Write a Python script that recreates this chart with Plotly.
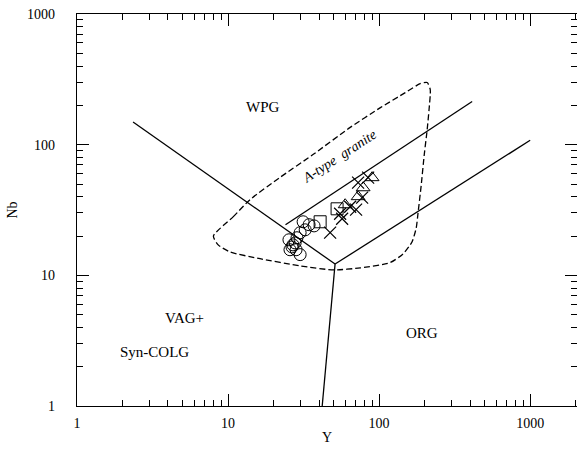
import numpy as np
import plotly.graph_objects as go

# ---- data (Y ppm, Nb ppm) ----
circ_y = [31.4, 34.4, 37.1, 30.0, 28.6, 25.3, 27.8, 26.5, 25.7, 28.2, 30.0, 26.9, 32.4]
circ_nb = [25.7, 24.4, 23.9, 21.2, 19.4, 18.7, 17.7, 16.5, 15.7, 15.7, 14.4, 17.1, 22.3]
sq_y = [40.7, 52.7]
sq_nb = [25.7, 32.3]
cross_y = [47.4, 56.9, 55.2, 64.3, 70.4, 77.2, 72.6, 84.6]
cross_nb = [21.2, 27.1, 29.6, 33.5, 31.8, 39.3, 51.2, 55.9]
tri_y = [89.9, 78.4, 72.6, 59.6]
tri_nb = [55.9, 46.8, 40.0, 34.7]

# field boundaries
wpg_vag_y = [2.35, 51.1]
wpg_vag_nb = [149, 12.2]
vag_org_y = [51.1, 42]
vag_org_nb = [12.2, 1]
org_wpg_y = [51.1, 1000]
org_wpg_nb = [12.2, 108]
upper_y = [24, 413]
upper_nb = [24.4, 214]

# A-type granite field (dashed outline)
atype_y = [8.0, 10.8, 14, 22, 36.5, 64, 102, 149, 187, 208, 218, 214, 208, 199, 190,
           181, 176, 165, 144, 118, 75, 50, 30, 16.3, 10.3, 8.6, 8.0]
atype_nb = [20, 28, 38, 56, 84, 135, 192, 250, 293, 299, 264, 185, 130, 84, 49,
            30, 23, 18, 14.6, 12.5, 11.4, 11, 11.8, 13.4, 15.1, 17.1, 20]

labels = ["WPG", "VAG+", "Syn-COLG", "ORG"]
label_y = [17.1, 5.11, 3.24, 193]
label_nb = [195, 4.72, 2.59, 3.63]

x_ticks = [1, 10, 100, 1000]
y_ticks = [1, 10, 100, 1000]
minor_mult = [2, 3, 4, 5, 6, 7, 8, 9]
decades = [1, 10, 100, 1000]
minor_vals = [m * d for d in decades for m in minor_mult]

FONT = "Liberation Serif, Times New Roman, serif"

fig = go.Figure()
line_style = dict(color="black", width=1.3)
for xs, ys in [(wpg_vag_y, wpg_vag_nb), (vag_org_y, vag_org_nb),
               (org_wpg_y, org_wpg_nb), (upper_y, upper_nb)]:
    fig.add_trace(go.Scatter(x=xs, y=ys, mode="lines", line=line_style,
                             showlegend=False, hoverinfo="skip"))

fig.add_trace(go.Scatter(x=atype_y, y=atype_nb, mode="lines",
                         line=dict(color="black", width=1.3, dash="6px,3px", shape="spline", smoothing=0.6),
                         showlegend=False, hoverinfo="skip"))

mk_line = dict(color="black", width=1)
fig.add_trace(go.Scatter(x=circ_y, y=circ_nb, mode="markers",
                         marker=dict(symbol="circle-open", size=12, color="black", line=mk_line),
                         showlegend=False))
fig.add_trace(go.Scatter(x=sq_y, y=sq_nb, mode="markers",
                         marker=dict(symbol="square-open", size=12, color="black", line=mk_line),
                         showlegend=False))
fig.add_trace(go.Scatter(x=cross_y, y=cross_nb, mode="markers",
                         marker=dict(symbol="x-thin", size=12, color="black",
                                     line=dict(color="black", width=1.2)),
                         showlegend=False))
fig.add_trace(go.Scatter(x=tri_y, y=tri_nb, mode="markers",
                         marker=dict(symbol="triangle-up-open", size=12, color="black", line=mk_line),
                         showlegend=False))

for t, xv, yv in zip(labels, label_y, label_nb):
    fig.add_annotation(x=np.log10(xv), y=np.log10(yv), text=t, showarrow=False,
                       font=dict(family=FONT, size=15, color="black"))

fig.add_annotation(x=np.log10(54.3), y=np.log10(80.9), text="<i>A-type  granite</i>",
                   showarrow=False, textangle=-33,
                   font=dict(family=FONT, size=14, color="black"))

axis_common = dict(
    type="log", showgrid=False, zeroline=False, showline=True, linecolor="black",
    linewidth=1.3, mirror="ticks", ticks="inside", ticklen=12, tickwidth=1.3,
    tickcolor="black",
    tickfont=dict(family=FONT, size=14, color="black"),
    minor=dict(ticks="inside", ticklen=6, tickwidth=1, tickcolor="black",
               showgrid=False, tickvals=minor_vals),
)
fig.update_xaxes(**axis_common, range=[0, 3.31], tickvals=x_ticks,
                 ticktext=[str(v) for v in x_ticks], ticklabelstandoff=4,
                 title=dict(text="Y", font=dict(family=FONT, size=14, color="black"), standoff=2))
fig.update_yaxes(**axis_common, range=[0, 3], tickvals=y_ticks,
                 ticktext=[str(v) for v in y_ticks], ticklabelstandoff=18,
                 title=dict(text="Nb", font=dict(family=FONT, size=14, color="black"), standoff=6))

fig.update_layout(width=577, height=452, margin=dict(l=77, r=0, t=14, b=46),
                  plot_bgcolor="white", paper_bgcolor="white", showlegend=False)

fig.write_html("out.html")
